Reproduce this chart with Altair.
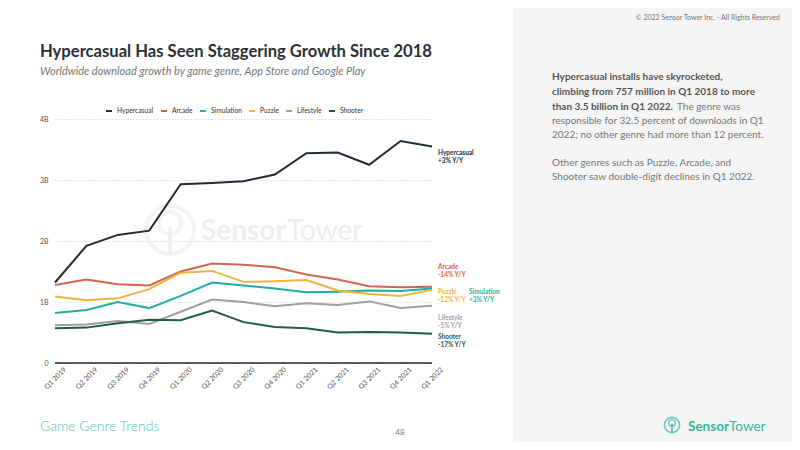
import altair as alt
import pandas as pd

quarters = ["Q1 2019", "Q2 2019", "Q3 2019", "Q4 2019", "Q1 2020", "Q2 2020", "Q3 2020",
            "Q4 2020", "Q1 2021", "Q2 2021", "Q3 2021", "Q4 2021", "Q1 2022"]
genres = ["Hypercasual", "Arcade", "Simulation", "Puzzle", "Lifestyle", "Shooter"]
colors = ["#222d33", "#d1654f", "#1faf9c", "#eeb43f", "#a0a0a0", "#225b4e"]

hypercasual = [1.32, 1.92, 2.10, 2.17, 2.93, 2.95, 2.98, 3.09, 3.44, 3.45, 3.25, 3.64, 3.55]
arcade      = [1.28, 1.37, 1.29, 1.27, 1.50, 1.63, 1.61, 1.57, 1.45, 1.37, 1.26, 1.24, 1.25]
simulation  = [0.82, 0.87, 1.00, 0.90, 1.10, 1.32, 1.27, 1.22, 1.16, 1.17, 1.19, 1.18, 1.22]
puzzle      = [1.09, 1.03, 1.06, 1.21, 1.48, 1.51, 1.33, 1.34, 1.36, 1.19, 1.13, 1.10, 1.20]
lifestyle   = [0.62, 0.63, 0.69, 0.64, 0.84, 1.04, 1.00, 0.93, 0.98, 0.95, 1.01, 0.90, 0.94]
shooter     = [0.57, 0.58, 0.65, 0.71, 0.70, 0.86, 0.67, 0.59, 0.57, 0.50, 0.51, 0.50, 0.48]

yoy = ["+3% Y/Y", "-14% Y/Y", "+3% Y/Y", "-12% Y/Y", "-5% Y/Y", "-17% Y/Y"]
label_y = [3.44, 1.574, 1.164, 1.164, 0.743, 0.423]

series = [hypercasual, arcade, simulation, puzzle, lifestyle, shooter]
rows = []
for g, vals in zip(genres, series):
    for q, v in zip(quarters, vals):
        rows.append({"quarter": q, "genre": g, "value": v})
df = pd.DataFrame(rows)

lab = pd.DataFrame({"genre": genres, "text": [f"{g}\n{y}" for g, y in zip(genres, yoy)],
                    "y": label_y, "quarter": [quarters[-1]] * len(genres)})

W, H = 377, 244
PL, PT = 47, 111
TOTAL_W, TOTAL_H = 784, 434

xenc = alt.X("quarter:O", sort=quarters, scale=alt.Scale(padding=0),
             axis=alt.Axis(title=None, labelAngle=315, labelAlign="center", labelBaseline="middle",
                           labelFontSize=7, labelColor="#555", labelPadding=15, ticks=False,
                           tickSize=0, domain=False, grid=False, labelFont="Lato"))
yenc = alt.Y("value:Q", scale=alt.Scale(domain=[0, 4]),
             axis=alt.Axis(title=None, values=[0, 1, 2, 3, 4], labelExpr="datum.value == 0 ? '0' : datum.value + 'B'",
                           labelFontSize=7, labelColor="#555", labelPadding=7, ticks=False, domain=False,
                           grid=True, gridColor="#c8c8c8", gridDash=[1, 2], gridWidth=1, labelFont="Lato"))

color = alt.Color("genre:N", sort=genres, scale=alt.Scale(domain=genres, range=colors),
                  legend=alt.Legend(title=None, orient="none", direction="horizontal", legendX=50, legendY=-12,
                                    symbolType="stroke", symbolStrokeWidth=2, symbolSize=36, labelFontSize=6.7,
                                    labelColor="#333", labelFont="Lato", columnPadding=3, labelOffset=4,
                                    padding=0))

one = pd.DataFrame({"a": [0]})

panel = alt.Chart(one).mark_rect(color="#f5f5f5").encode(
    x=alt.value(458), x2=alt.value(TOTAL_W - PL + 10), y=alt.value(-PT - 10), y2=alt.value(TOTAL_H - PT + 10))

# watermark
wm_ring = alt.Chart(one).mark_point(shape="circle", size=2300, strokeWidth=4, color="#efefef", filled=False).encode(
    x=alt.value(115), y=alt.value(111))
wm_inner = alt.Chart(one).mark_point(shape="circle", size=500, strokeWidth=4, color="#efefef", filled=False).encode(
    x=alt.value(115), y=alt.value(104))
wm_stem = alt.Chart(one).mark_rule(color="#efefef", strokeWidth=4).encode(
    x=alt.value(115), y=alt.value(108), y2=alt.value(135))
wm_text1 = alt.Chart(one).mark_text(text="Sensor", font="Lato", fontWeight="bold", fontSize=28, align="left",
                                    baseline="alphabetic", color="#eeeeee").encode(x=alt.value(146), y=alt.value(121))
wm_text2 = alt.Chart(one).mark_text(text="Tower", font="Lato", fontSize=28, align="left",
                                    baseline="alphabetic", color="#eeeeee").encode(x=alt.value(232), y=alt.value(121))

lines = alt.Chart(df).mark_line(strokeWidth=2).encode(x=xenc, y=yenc, color=color, order=alt.value(0))

zero = alt.Chart(one).mark_rule(color="#222", strokeWidth=1.5).encode(
    x=alt.value(0), x2=alt.value(W), y=alt.value(H))

lab_main = alt.Chart(lab).transform_filter(alt.datum.genre != "Simulation").mark_text(
    align="left", baseline="middle", dx=6, fontSize=6.5, fontWeight="bold", font="Lato", lineBreak="\n",
    lineHeight=8).encode(x=alt.X("quarter:O", sort=quarters), y=alt.Y("y:Q"),
                         text="text:N", color=alt.Color("genre:N", scale=alt.Scale(domain=genres, range=colors),
                                                         legend=None))
lab_sim = alt.Chart(lab).transform_filter(alt.datum.genre == "Simulation").mark_text(
    align="left", baseline="middle", dx=37, fontSize=6.5, fontWeight="bold", font="Lato", lineBreak="\n",
    lineHeight=8).encode(x=alt.X("quarter:O", sort=quarters), y=alt.Y("y:Q"),
                         text="text:N", color=alt.Color("genre:N", scale=alt.Scale(domain=genres, range=colors),
                                                         legend=None))

def txt(t, x, y, size, color, weight="normal", style="normal", align="left", font="Lato", baseline="alphabetic"):
    return alt.Chart(one).mark_text(text=t, fontSize=size, color=color, fontWeight=weight, fontStyle=style,
                                    align=align, font=font, baseline=baseline).encode(
        x=alt.value(x - 8 - PL), y=alt.value(y - 8 - PT))

texts = [
    txt("Hypercasual Has Seen Staggering Growth Since 2018", 40, 57, 16.6, "#2b3035", weight="bold"),
    txt("Worldwide download growth by game genre, App Store and Google Play", 40, 75, 11, "#777", style="italic"),
    txt("© 2022 Sensor Tower Inc. - All Rights Reserved", 780, 20, 7, "#777", align="right"),
    txt("Hypercasual installs have skyrocketed,", 552, 80, 10, "#555", weight="bold"),
    txt("climbing from 757 million in Q1 2018 to more", 552, 95, 10, "#555", weight="bold"),
    txt("than 3.5 billion in Q1 2022.", 552, 110, 10, "#555", weight="bold"),
    txt("The genre was", 677, 110, 10, "#777"),
    txt("responsible for 32.5 percent of downloads in Q1", 552, 124, 10, "#777"),
    txt("2022; no other genre had more than 12 percent.", 552, 138, 10, "#777"),
    txt("Other genres such as Puzzle, Arcade, and", 552, 166, 10, "#777"),
    txt("Shooter saw double-digit declines in Q1 2022.", 552, 180, 10, "#777"),
    txt("Game Genre Trends", 40, 431, 14, "#4dc4b0", weight=300),
    txt("48", 400, 435, 8, "#777", align="center"),
    txt("Sensor", 688, 431, 13.5, "#2fb5a0", weight="bold"),
    txt("Tower", 729, 431, 13.5, "#2fb5a0"),
]

logo_ring = alt.Chart(one).mark_point(shape="circle", size=230, strokeWidth=1.6, color="#2fb5a0", filled=False).encode(
    x=alt.value(672 - 8 - PL), y=alt.value(425 - 8 - PT))
logo_inner = alt.Chart(one).mark_point(shape="circle", size=45, strokeWidth=1.4, color="#2fb5a0", filled=False).encode(
    x=alt.value(672 - 8 - PL), y=alt.value(423 - 8 - PT))
logo_stem = alt.Chart(one).mark_rule(color="#2fb5a0", strokeWidth=1.4).encode(
    x=alt.value(672 - 8 - PL), y=alt.value(424 - 8 - PT), y2=alt.value(432 - 8 - PT))

chart = alt.layer(panel, wm_ring, wm_inner, wm_stem, wm_text1, wm_text2, lines, zero, lab_main, lab_sim,
                  logo_ring, logo_inner, logo_stem, *texts).resolve_scale(color="independent").properties(
    width=W, height=H, autosize=alt.AutoSizeParams(type="none"),
    padding={"left": PL, "top": PT, "right": TOTAL_W - PL - W, "bottom": TOTAL_H - PT - H},
    background="white"
).configure_view(stroke=None)

chart.save("out.html", embed_options={"renderer": "svg", "actions": False})
